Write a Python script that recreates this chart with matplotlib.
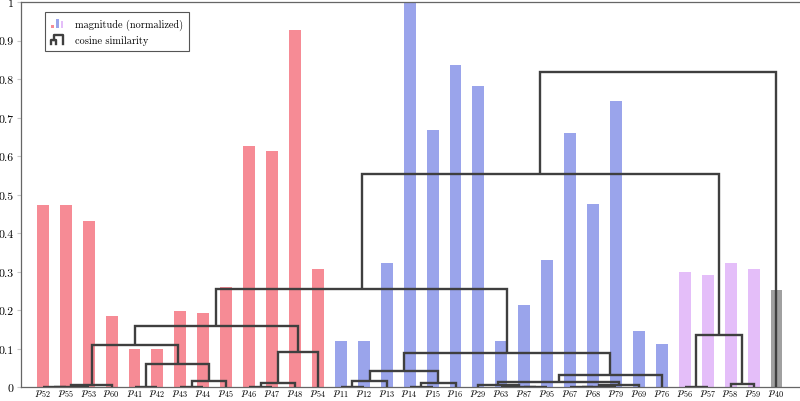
import matplotlib
matplotlib.use("Agg")
import matplotlib.pyplot as plt
from matplotlib.patches import Rectangle
from matplotlib.lines import Line2D
from matplotlib.legend_handler import HandlerBase
from matplotlib.ticker import FuncFormatter, MultipleLocator

plt.rcParams["font.family"] = ["cmr10", "DejaVu Serif"]
plt.rcParams["mathtext.fontset"] = "cm"
plt.rcParams["axes.formatter.use_mathtext"] = True

# leaves in dendrogram order
leaves = ["52", "55", "53", "60", "41", "42", "43", "44", "45", "46", "47", "48", "54",
          "11", "12", "13", "14", "15", "16", "29", "63", "87", "95", "67", "68", "79",
          "69", "76", "56", "57", "58", "59", "40"]
magnitude = [0.474, 0.474, 0.431, 0.185, 0.100, 0.100, 0.197, 0.192, 0.261, 0.627,
             0.613, 0.928, 0.307, 0.120, 0.120, 0.323, 1.000, 0.667, 0.836, 0.782,
             0.120, 0.213, 0.330, 0.660, 0.477, 0.743, 0.147, 0.113, 0.300, 0.292,
             0.323, 0.307, 0.254]
group_sizes = [13, 15, 4, 1]
group_colors = ["#f68b95", "#9aa4eb", "#e4bef9", "#a0a0a0"]

# linkage: (new node, left child, right child, height)
merges = [
    ("A", "52", "55", 0.001), ("B", "A", "53", 0.002), ("C", "B", "60", 0.005),
    ("F", "41", "42", 0.001), ("D", "43", "44", 0.002), ("E", "D", "45", 0.017),
    ("G", "F", "E", 0.060), ("H", "C", "G", 0.111),
    ("I", "46", "47", 0.001), ("J", "I", "48", 0.010), ("K", "J", "54", 0.093),
    ("L", "H", "K", 0.160),
    ("M", "11", "12", 0.001), ("N", "M", "13", 0.017),
    ("Q", "14", "15", 0.001), ("P", "Q", "16", 0.010), ("O", "N", "P", 0.043),
    ("U3", "87", "95", 0.001), ("U2", "63", "U3", 0.002), ("U", "29", "U2", 0.005),
    ("Y", "67", "68", 0.001), ("X", "Y", "79", 0.002), ("W", "X", "69", 0.005),
    ("T", "U", "W", 0.015), ("S", "T", "76", 0.031), ("R", "O", "S", 0.090),
    ("V", "L", "R", 0.256),
    ("Z1", "56", "57", 0.001), ("Z2", "58", "59", 0.008), ("Z", "Z1", "Z2", 0.137),
    ("AA", "V", "Z", 0.555), ("root", "AA", "40", 0.820),
]

line_color = "#3f3f3f"

colors = []
for c, n in zip(group_colors, group_sizes):
    colors += [c] * n

fig = plt.figure(figsize=(8.0, 4.02), dpi=100)
ax = fig.add_axes([0.026, 0.034, 0.975, 0.958])

x = list(range(len(leaves)))
ax.bar(x, magnitude, width=0.52, color=colors, zorder=2)

pos = {name: i for i, name in enumerate(leaves)}
height = {name: 0.0 for name in leaves}
for node, a, b, h in merges:
    xa, xb = pos[a], pos[b]
    ax.plot([xa, xa, xb, xb], [height[a], h, h, height[b]], color=line_color,
            lw=1.7, solid_joinstyle="miter", solid_capstyle="butt", zorder=3)
    pos[node] = (xa + xb) / 2
    height[node] = h

ax.set_xlim(-0.96, 33.06)
ax.set_ylim(0, 1)
ax.set_xticks(x)
ax.set_xticklabels([f"$p_{{{n}}}$" for n in leaves], fontsize=8.5)
ax.tick_params(axis="x", length=0, pad=0.5)
ax.yaxis.set_major_locator(MultipleLocator(0.1))
ax.yaxis.set_major_formatter(FuncFormatter(lambda v, p: f"{v:.1f}".rstrip("0").rstrip(".") if v else "0"))
ax.tick_params(axis="y", labelsize=8.5, length=3, color="#c8c8c8", pad=2)
for s in ax.spines.values():
    s.set_color("#666666")
    s.set_linewidth(0.9)


class BarIcon(HandlerBase):
    def create_artists(self, legend, orig_handle, xdescent, ydescent, width, height, fontsize, trans):
        hs = [0.3, 0.95, 0.7]
        w = width / 5.0
        arts = []
        for k, (hh, c) in enumerate(zip(hs, group_colors[:3])):
            r = Rectangle((-xdescent + k * 2 * w, -ydescent), w, hh * height,
                          facecolor=c, edgecolor="none", transform=trans)
            arts.append(r)
        return arts


class DendroIcon(HandlerBase):
    def create_artists(self, legend, orig_handle, xdescent, ydescent, width, height, fontsize, trans):
        x0 = -xdescent
        y0 = -ydescent
        xs1 = [x0, x0, x0 + 0.4 * width, x0 + 0.4 * width]
        ys1 = [y0, y0 + 0.5 * height, y0 + 0.5 * height, y0]
        xs2 = [x0 + 0.2 * width, x0 + 0.2 * width, x0 + width, x0 + width]
        ys2 = [y0 + 0.5 * height, y0 + height, y0 + height, y0]
        return [Line2D(xs1, ys1, color=line_color, lw=1.7, transform=trans),
                Line2D(xs2, ys2, color=line_color, lw=1.7, transform=trans)]


h1 = Rectangle((0, 0), 1, 1)
h2 = Line2D([], [])
leg = ax.legend([h1, h2], ["magnitude (normalized)", "cosine similarity"],
                handler_map={h1: BarIcon(), h2: DendroIcon()},
                loc="upper left", bbox_to_anchor=(0.031, 0.974), borderaxespad=0,
                fontsize=7.4, handlelength=1.2, handleheight=1.1, handletextpad=1.1,
                fancybox=False, framealpha=1, edgecolor="#555555", borderpad=0.6,
                labelspacing=0.45)
leg.get_frame().set_linewidth(0.8)

fig.savefig("out.png", dpi=100)
